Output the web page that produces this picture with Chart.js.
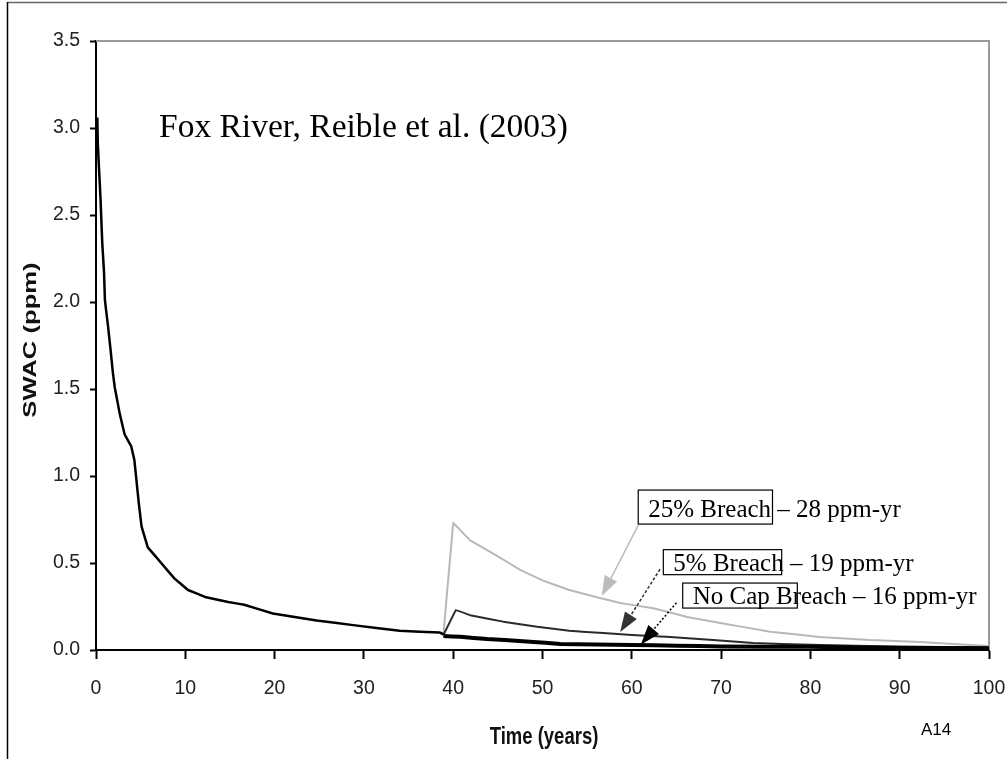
<!DOCTYPE html>
<html>
<head>
<meta charset="utf-8">
<script src="https://cdn.jsdelivr.net/npm/chart.js@4.4.1/dist/chart.umd.min.js"></script>
<style>
  html, body { margin: 0; padding: 0; background: #fff; }
  #wrap { width: 1007px; height: 759px; position: relative; }
</style>
</head>
<body>
<div id="wrap"><canvas id="swacChart" width="1007" height="759"></canvas></div>
<script>
// DATA

// pre-breach decline, shared by all cases
var baseYears = [0.15, 0.2, 0.5, 0.7, 0.9, 1.0, 1.35, 1.6, 1.9, 2.1, 2.65, 3.2, 3.95, 4.3, 4.5, 4.8, 5.1, 5.8, 7.3, 8.8, 10.3, 12.2, 14.8, 16.6, 19.8, 24.7, 28.8, 34, 38.5, 38.9];
var baseSwac  = [3.06, 2.91, 2.60, 2.34, 2.17, 2.01, 1.86, 1.74, 1.59, 1.51, 1.36, 1.24, 1.17, 1.09, 0.99, 0.84, 0.71, 0.59, 0.50, 0.41, 0.345, 0.305, 0.276, 0.26, 0.21, 0.17, 0.143, 0.11, 0.10, 0.09];

var breach25Years = [38.9, 40.0, 41.9, 43.75, 45.6, 47.5, 50, 53, 56, 58.7, 62.4, 66.2, 69.9, 75.5, 81, 86.7, 92.3, 96, 100];
var breach25Swac  = [0.086, 0.73, 0.63, 0.575, 0.52, 0.46, 0.40, 0.345, 0.305, 0.27, 0.24, 0.19, 0.155, 0.105, 0.075, 0.057, 0.046, 0.035, 0.023];

var breach5Years = [38.9, 40.3, 41.9, 45.6, 49.4, 53, 56.8, 60, 64.3, 69.1, 73.6, 80, 90, 100];
var breach5Swac  = [0.086, 0.23, 0.20, 0.163, 0.134, 0.111, 0.097, 0.086, 0.075, 0.057, 0.04, 0.03, 0.02, 0.015];

var noCapYears = [38.9, 40.8, 43.8, 48.6, 52, 60, 65, 70, 80, 90, 100];
var noCapSwac  = [0.08, 0.076, 0.063, 0.048, 0.035, 0.029, 0.025, 0.02, 0.018, 0.012, 0.01];

var xTicks = [0, 10, 20, 30, 40, 50, 60, 70, 80, 90, 100];
var yTicks = [0.0, 0.5, 1.0, 1.5, 2.0, 2.5, 3.0, 3.5];

// callout labels, anchored in data units (years, ppm)
var labelText  = ['25% Breach \u2013 28 ppm-yr', '5% Breach \u2013 19 ppm-yr', 'No Cap Breach \u2013 16 ppm-yr'];
var labelBoxed = ['25% Breach', '5% Breach', 'No Cap Br'];
var labelAt    = [[61.84, 0.764], [64.65, 0.456], [66.82, 0.264]];
var arrowFrom  = [[60.73, 0.718], [63.16, 0.464], [65.0, 0.272]];
var arrowTip   = [[56.63, 0.31], [58.7, 0.103], [61.0, 0.03]];

// END DATA

function pts(xs, ys) {
    return xs.map(function (x, i) { return { x: x, y: ys[i] }; });
}

var boxStyle = [
    { top: 27, bottom: 7, cut: 1.4, color: '#bcbcbc', dash: [] },
    { top: 21, bottom: 4, cut: -2, color: '#333333', dash: [3, 2] },
    { top: 21, bottom: 4, cut: -3.7, color: '#000000', dash: [2, 2] }
];

function arrow(ctx, x0, y0, x1, y1, color, dash) {
    var ang = Math.atan2(y1 - y0, x1 - x0);
    var len = 20, half = 7;
    var bx = x1 - len * Math.cos(ang), by = y1 - len * Math.sin(ang);
    ctx.save();
    ctx.strokeStyle = color;
    ctx.lineWidth = 1.5;
    ctx.setLineDash(dash);
    ctx.beginPath();
    ctx.moveTo(x0, y0);
    ctx.lineTo(bx, by);
    ctx.stroke();
    ctx.setLineDash([]);
    ctx.fillStyle = color;
    ctx.beginPath();
    ctx.moveTo(x1, y1);
    ctx.lineTo(bx + half * Math.sin(ang), by - half * Math.cos(ang));
    ctx.lineTo(bx - half * Math.sin(ang), by + half * Math.cos(ang));
    ctx.closePath();
    ctx.fill();
    ctx.restore();
}

var extras = {
    id: 'extras',
    beforeDatasetsDraw: function (chart) {
        var ctx = chart.ctx, a = chart.chartArea;
        ctx.save();
        // outer frame
        ctx.strokeStyle = '#666';
        ctx.lineWidth = 1.5;
        ctx.beginPath(); ctx.moveTo(7, 2.5); ctx.lineTo(1007, 2.5); ctx.stroke();
        ctx.strokeStyle = '#000';
        ctx.beginPath(); ctx.moveTo(7.5, 2); ctx.lineTo(7.5, 759); ctx.stroke();
        // plot area top / right border
        ctx.strokeStyle = '#9a9a9a';
        ctx.lineWidth = 2;
        ctx.beginPath();
        ctx.moveTo(a.left, a.top);
        ctx.lineTo(a.right, a.top);
        ctx.lineTo(a.right, a.bottom);
        ctx.stroke();
        ctx.restore();
    },
    afterDatasetsDraw: function (chart) {
        var ctx = chart.ctx;
        var sx = chart.scales.x, sy = chart.scales.y;
        ctx.save();

        ctx.fillStyle = '#000';
        ctx.font = '33.5px "Liberation Serif", "Times New Roman", serif';
        ctx.textBaseline = 'alphabetic';
        ctx.fillText('Fox River, Reible et al. (2003)', 159, 137);

        ctx.font = '25px "Liberation Serif", "Times New Roman", serif';
        for (var i = 0; i < labelText.length; i++) {
            var tx = sx.getPixelForValue(labelAt[i][0]);
            var ty = sy.getPixelForValue(labelAt[i][1]);
            var st = boxStyle[i];
            var wBox = ctx.measureText(labelBoxed[i]).width;
            ctx.fillStyle = '#000';
            ctx.fillText(labelText[i], tx, ty);
            ctx.strokeStyle = '#000';
            ctx.lineWidth = 1.2;
            ctx.strokeRect(tx - 10, ty - st.top, wBox + 10 + st.cut, st.top + st.bottom);
            arrow(ctx,
                sx.getPixelForValue(arrowFrom[i][0]), sy.getPixelForValue(arrowFrom[i][1]),
                sx.getPixelForValue(arrowTip[i][0]), sy.getPixelForValue(arrowTip[i][1]),
                st.color, st.dash);
        }

        // axis titles
        ctx.fillStyle = '#111';
        ctx.font = 'bold 19px "Liberation Sans", Arial, sans-serif';
        ctx.textAlign = 'center';
        ctx.textBaseline = 'middle';
        ctx.save();
        ctx.translate(31, 340);
        ctx.rotate(-Math.PI / 2);
        ctx.scale(1.35, 1);
        ctx.fillText('SWAC (ppm)', 0, 0);
        ctx.restore();

        ctx.font = 'bold 18.5px "Liberation Sans", Arial, sans-serif';
        ctx.save();
        ctx.translate(544, 737);
        ctx.scale(1, 1.3);
        ctx.fillText('Time (years)', 0, 0);
        ctx.restore();

        ctx.font = '17px "Liberation Sans", Arial, sans-serif';
        ctx.textAlign = 'left';
        ctx.textBaseline = 'alphabetic';
        ctx.fillStyle = '#000';
        ctx.fillText('A14', 921, 735);
        ctx.restore();
    }
};

var tickFont = { family: '"Liberation Sans", Arial, sans-serif', size: 19.5 };

var ctx = document.getElementById('swacChart').getContext('2d');
var chart = new Chart(ctx, {
    type: 'line',
    data: {
        datasets: [
            { label: 'Pre-breach', data: pts(baseYears, baseSwac), borderColor: '#000', borderWidth: 2.5 },
            { label: 'No Cap Breach', data: pts(noCapYears, noCapSwac), borderColor: '#000', borderWidth: 4 },
            { label: '5% Breach', data: pts(breach5Years, breach5Swac), borderColor: '#2a2a2a', borderWidth: 2 },
            { label: '25% Breach', data: pts(breach25Years, breach25Swac), borderColor: '#b8b8b8', borderWidth: 2 }
        ]
    },
    options: {
        responsive: false,
        animation: false,
        events: [],
        elements: {
            point: { radius: 0 },
            // tiny tension keeps the full path (no per-pixel fast path spikes)
            line: { tension: 0.01, borderCapStyle: 'butt', borderJoinStyle: 'round' }
        },
        layout: { padding: { left: 0, top: 41, right: 0, bottom: 0 } },
        plugins: { legend: { display: false }, tooltip: { enabled: false } },
        scales: {
            x: {
                type: 'linear', min: 0, max: 100,
                afterBuildTicks: function (s) { s.ticks = xTicks.map(function (v) { return { value: v }; }); },
                afterFit: function (s) { s.height = 109; s.paddingLeft = 0; s.paddingRight = 18; },
                border: { display: true, color: '#000', width: 2 },
                grid: { display: true, drawOnChartArea: false, drawTicks: true, tickLength: 9, tickColor: '#000', tickWidth: 2 },
                ticks: { color: '#222', font: tickFont, padding: 18, maxRotation: 0, autoSkip: false }
            },
            y: {
                type: 'linear', min: 0, max: 3.5,
                afterBuildTicks: function (s) { s.ticks = yTicks.map(function (v) { return { value: v }; }); },
                afterFit: function (s) { s.width = 96; s.paddingTop = 0; s.paddingBottom = 0; },
                border: { display: true, color: '#000', width: 2 },
                grid: { display: true, drawOnChartArea: false, drawTicks: true, tickLength: 6, tickColor: '#000', tickWidth: 2 },
                ticks: { color: '#222', font: tickFont, padding: 10, autoSkip: false,
                    callback: function (v) { return Number(v).toFixed(1); } }
            }
        }
    },
    plugins: [extras]
});
</script>
</body>
</html>
